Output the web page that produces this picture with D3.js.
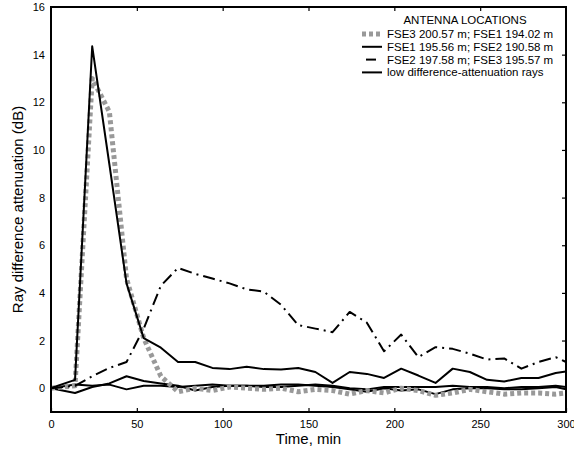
<!DOCTYPE html>
<html>
<head>
<meta charset="utf-8">
<script src="https://cdn.jsdelivr.net/npm/d3@7"></script>
<style>
  body { margin: 0; background: #fff; }
  text { font-family: "Liberation Sans", Arial, sans-serif; fill: #000; }
</style>
</head>
<body>
<div id="chart"></div>
<script>
// time samples (min)
const times = [0, 14, 24, 34, 44, 54, 64, 74, 84, 94, 104, 114, 124, 134, 144, 154, 164, 174, 184, 194, 204, 214, 224, 234, 244, 254, 264, 274, 284, 294, 300];

// FSE3 200.57 m; FSE1 194.02 m (grey dotted)
const fse3fse1 = [0, 0.1, 13.0, 11.6, 4.6, 2.1, 0.5, -0.15, 0.0, -0.1, 0.05, 0.0, -0.05, 0.0, -0.15, -0.05, -0.1, -0.25, -0.1, -0.2, 0.0, -0.1, -0.3, -0.2, -0.05, -0.15, -0.25, -0.2, -0.2, -0.25, -0.2];
// FSE1 195.56 m; FSE2 190.58 m (solid)
const fse1fse2 = [0, 0.35, 14.35, 9.4, 4.4, 2.1, 1.7, 1.1, 1.1, 0.85, 0.8, 0.9, 0.8, 0.78, 0.85, 0.68, 0.22, 0.68, 0.6, 0.43, 0.82, 0.53, 0.22, 0.82, 0.68, 0.35, 0.28, 0.43, 0.43, 0.64, 0.7];
// FSE2 197.58 m; FSE3 195.57 m (dash-dot)
const fse2fse3 = [0, 0.1, 0.5, 0.85, 1.1, 2.5, 4.3, 5.05, 4.8, 4.6, 4.4, 4.15, 4.05, 3.5, 2.65, 2.5, 2.35, 3.2, 2.75, 1.55, 2.25, 1.3, 1.72, 1.65, 1.45, 1.2, 1.25, 0.82, 1.1, 1.3, 1.1];
// low difference-attenuation rays
const lowRaysA = [0, -0.2, 0.05, 0.2, 0.5, 0.3, 0.2, 0.1, -0.1, 0.05, 0.1, 0.1, 0.1, 0.15, 0.15, 0.1, 0.05, -0.05, -0.15, 0.0, -0.1, -0.05, -0.25, -0.05, 0.0, 0.0, -0.05, -0.05, 0.0, 0.05, -0.05];
const lowRaysB = [0, 0.15, 0.1, 0.15, -0.05, 0.1, 0.1, 0.05, 0.1, 0.15, 0.1, 0.1, 0.05, 0.05, 0.1, 0.15, 0.1, 0.0, -0.05, 0.05, 0.05, 0.05, 0.05, 0.1, 0.05, 0.05, 0.0, 0.05, 0.05, 0.1, 0.05];

const xTicks = [0, 50, 100, 150, 200, 250, 300];
const yTicks = [0, 2, 4, 6, 8, 10, 12, 14, 16];

const legendTitle = "ANTENNA LOCATIONS";
const legendLabels = ["FSE3 200.57 m; FSE1 194.02 m", "FSE1 195.56 m; FSE2 190.58 m", "FSE2 197.58 m; FSE3 195.57 m", "low difference-attenuation rays"];

const width = 574, height = 457;
const margin = {top: 7, right: 8, bottom: 45, left: 51};
const innerW = width - margin.left - margin.right;
const innerH = height - margin.top - margin.bottom;

// series styles, one per drawn line
const styles = {
  grey: {stroke: "#999", width: 5, dash: "4,3"},
  solid: {stroke: "#000", width: 2, dash: null},
  dashdot: {stroke: "#000", width: 2, dash: "12,5,2,5"},
  low: {stroke: "#000", width: 2, dash: null}
};

const series = [
  {values: lowRaysA, style: styles.low},
  {values: lowRaysB, style: styles.low},
  {values: fse3fse1, style: styles.grey},
  {values: fse2fse3, style: styles.dashdot},
  {values: fse1fse2, style: styles.solid}
];

const svg = d3.select("#chart").append("svg")
  .attr("width", width)
  .attr("height", height);

const g = svg.append("g")
  .attr("transform", `translate(${margin.left},${margin.top})`);

const xScale = d3.scaleLinear().domain([0, 300]).range([0, innerW]);
const yScale = d3.scaleLinear().domain([-1, 16]).range([innerH, 0]);

g.append("clipPath").attr("id", "plot-clip")
  .append("rect").attr("width", innerW).attr("height", innerH);

const line = d3.line()
  .x((d) => xScale(d[0]))
  .y((d) => yScale(d[1]));

const lines = g.append("g").attr("clip-path", "url(#plot-clip)");
series.forEach((s) => {
  lines.append("path")
    .datum(times.map((t, i) => [t, s.values[i]]))
    .attr("fill", "none")
    .attr("stroke", s.style.stroke)
    .attr("stroke-width", s.style.width)
    .attr("stroke-dasharray", s.style.dash)
    .attr("stroke-linejoin", "round")
    .attr("d", line);
});

// axes: labels on left/bottom, inward ticks on the frame
const tickStyle = (sel) => {
  sel.select(".domain").remove();
  sel.selectAll("line").attr("stroke", "#000").attr("stroke-width", 1.2);
  sel.selectAll("text").style("font-size", "11px");
};

g.append("g")
  .attr("transform", `translate(0,${innerH})`)
  .call(d3.axisBottom(xScale).tickValues(xTicks).tickSizeInner(-4).tickSizeOuter(0).tickPadding(8))
  .call(tickStyle);

g.append("g")
  .call(d3.axisTop(xScale).tickValues(xTicks.slice(1, -1)).tickSizeInner(-4).tickSizeOuter(0).tickFormat(""))
  .call(tickStyle);

g.append("g")
  .call(d3.axisLeft(yScale).tickValues(yTicks).tickSizeInner(0).tickSizeOuter(0).tickPadding(6))
  .call(tickStyle);

g.append("g")
  .attr("transform", `translate(${innerW},0)`)
  .call(d3.axisRight(yScale).tickValues(yTicks.slice(1, -1)).tickSizeInner(-4).tickSizeOuter(0).tickFormat(""))
  .call(tickStyle);

// frame
g.append("rect")
  .attr("width", innerW)
  .attr("height", innerH)
  .attr("fill", "none")
  .attr("stroke", "#000")
  .attr("stroke-width", 2);

// axis titles
svg.append("text")
  .attr("x", margin.left + innerW / 2)
  .attr("y", 444)
  .attr("text-anchor", "middle")
  .style("font-size", "15px")
  .text("Time, min");

svg.append("text")
  .attr("transform", `translate(23,${margin.top + innerH / 2}) rotate(-90)`)
  .attr("text-anchor", "middle")
  .style("font-size", "15px")
  .text("Ray difference attenuation (dB)");

// legend
const legend = svg.append("g").attr("transform", "translate(362,0)");
legend.append("text")
  .attr("x", 103)
  .attr("y", 24)
  .attr("text-anchor", "middle")
  .style("font-size", "11.5px")
  .text(legendTitle);

const legendStyles = [styles.grey, styles.solid, styles.dashdot, styles.low];
const legendSpans = [[0, 20], [0, 20], [4, 14], [0, 20]];
legendLabels.forEach((label, i) => {
  const y = 34 + i * 12.8;
  legend.append("line")
    .attr("x1", legendSpans[i][0]).attr("x2", legendSpans[i][1])
    .attr("y1", y).attr("y2", y)
    .attr("stroke", legendStyles[i].stroke)
    .attr("stroke-width", legendStyles[i].width)
    .attr("stroke-dasharray", i === 2 ? null : legendStyles[i].dash);
  legend.append("text")
    .attr("x", 25)
    .attr("y", y + 4)
    .style("font-size", "11.5px")
    .text(label);
});
</script>
</body>
</html>
